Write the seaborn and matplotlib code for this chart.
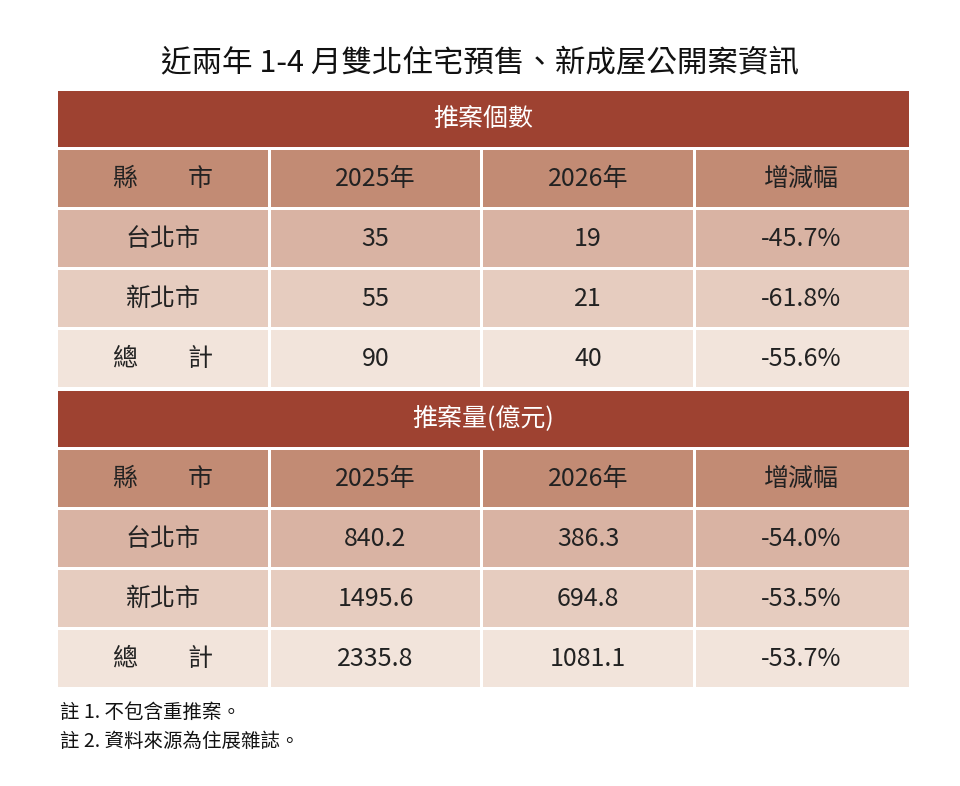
import matplotlib
matplotlib.use("Agg")
import matplotlib.pyplot as plt
import seaborn as sns
from matplotlib.patches import Rectangle

sns.set_theme(style="white")
plt.rcParams['font.family'] = ['Noto Sans CJK TC', 'DejaVu Sans']

title = "近兩年 1-4 月雙北住宅預售、新成屋公開案資訊"
sections = ["推案個數", "推案量(億元)"]
columns = ["縣　　市", "2025年", "2026年", "增減幅"]
cities = ["台北市", "新北市", "總　　計"]
count_2025 = ["35", "55", "90"]
count_2026 = ["19", "21", "40"]
count_change = ["-45.7%", "-61.8%", "-55.6%"]
vol_2025 = ["840.2", "1495.6", "2335.8"]
vol_2026 = ["386.3", "694.8", "1081.1"]
vol_change = ["-54.0%", "-53.5%", "-53.7%"]
notes = ["註 1. 不包含重推案。", "註 2. 資料來源為住展雜誌。"]

sec_color = "#9E4231"
head_color = "#C28B74"
row_colors = ["#D9B3A3", "#E6CCBF", "#F2E4DB"]

fig = plt.figure(figsize=(9.6, 7.86), dpi=100)
ax = fig.add_axes([0, 0, 1, 1])
ax.set_xlim(0, 960)
ax.set_ylim(786, 0)
ax.axis("off")

ax.text(480, 64, title, ha="center", va="center", fontsize=22, color="#111")

col_x = [58, 271, 483, 696, 909]
gap = 3
row_h = 60

def cell(x0, x1, y0, color, text, tcolor="#222", size=18):
    ax.add_patch(Rectangle((x0, y0), x1 - x0 - (gap if x1 < 900 else 0), row_h - gap,
                           facecolor=color, edgecolor="none"))
    ax.text((x0 + x1 - gap) / 2, y0 + (row_h - gap) / 2, text, ha="center", va="center",
            fontsize=size, color=tcolor)

data = [(count_2025, count_2026, count_change), (vol_2025, vol_2026, vol_change)]
y = 91
for s, (a, b, c) in zip(sections, data):
    ax.add_patch(Rectangle((58, y), 851, row_h - 4, facecolor=sec_color, edgecolor="none"))
    ax.text(483, y + 28, s, ha="center", va="center", fontsize=18, color="white")
    y += row_h - 1
    for i, col in enumerate(columns):
        cell(col_x[i], col_x[i + 1], y, head_color, col)
    y += row_h
    for r in range(3):
        vals = [cities[r], a[r], b[r], c[r]]
        for i, v in enumerate(vals):
            cell(col_x[i], col_x[i + 1], y, row_colors[r], v)
        y += row_h
    y += 1

ax.text(60, 712, notes[0], ha="left", va="center", fontsize=14, color="#111")
ax.text(60, 741, notes[1], ha="left", va="center", fontsize=14, color="#111")

fig.savefig("out.png", dpi=100, facecolor="white")
